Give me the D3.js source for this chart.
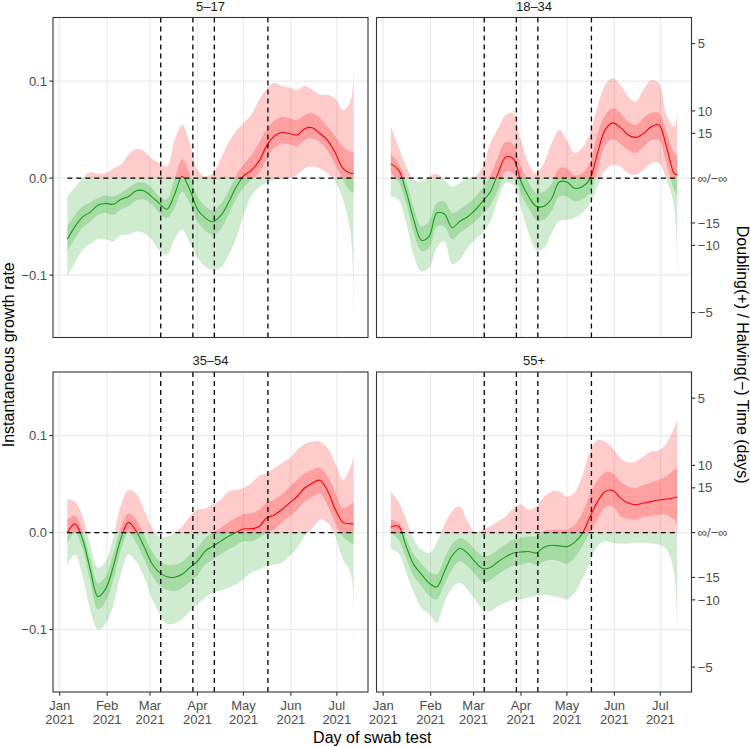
<!DOCTYPE html>
<html><head><meta charset="utf-8">
<script src="https://cdn.jsdelivr.net/npm/d3@7"></script>
<style>
body{margin:0;background:#fff}
text{font-family:"Liberation Sans",Arial,Helvetica,sans-serif}
</style>
</head><body>
<svg id="chart" width="750" height="746"></svg>
<script>
// ---------------- DATA ----------------
// day offsets from 2021-01-01
const days = [5,10,15,20,25,30,35,40,45,50,55,60,65,70,75,80,85,90,95,100,105,110,115,120,125,130,135,140,145,150,155,160,165,170,175,180,185,190,192];
const monthTicks = ["2021-01-01","2021-02-01","2021-03-01","2021-04-01","2021-05-01","2021-06-01","2021-07-01"];
const policyDates = ["2021-03-08","2021-03-29","2021-04-12","2021-05-17"];
const panelNames = ["5–17","18–34","35–54","55+"];
const yTicks = [-0.1, 0, 0.1];
const yTickLabels = ["−0.1","0.0","0.1"];
const dtTicks = [5,10,15,Infinity,-15,-10,-5];
const dtLabels = ["5","10","15","∞/−∞","−15","−10","−5"];

// 5–17
const mid_5_17 = [-0.063,-0.050,-0.040,-0.035,-0.028,-0.026,-0.027,-0.022,-0.019,-0.013,-0.013,-0.019,-0.026,-0.032,-0.017,0.002,-0.012,-0.032,-0.041,-0.045,-0.039,-0.026,-0.010,0.002,0.008,0.017,0.033,0.043,0.047,0.046,0.0445,0.051,0.052,0.046,0.039,0.026,0.010,0.005,0.005];
const hi50_5_17 = [-0.050,-0.038,-0.029,-0.025,-0.0205,-0.018,-0.019,-0.015,-0.010,-0.005,-0.0045,-0.010,-0.019,-0.022,-0.001,0.0195,0.004,-0.019,-0.029,-0.033,-0.027,-0.014,0.002,0.014,0.023,0.036,0.050,0.059,0.063,0.062,0.060,0.065,0.067,0.062,0.053,0.043,0.0325,0.027,0.027];
const lo50_5_17 = [-0.075,-0.062,-0.051,-0.045,-0.038,-0.036,-0.038,-0.032,-0.029,-0.023,-0.022,-0.027,-0.036,-0.041,-0.031,-0.014,-0.026,-0.0445,-0.054,-0.058,-0.053,-0.038,-0.022,-0.010,-0.002,0.005,0.019,0.031,0.035,0.035,0.033,0.039,0.041,0.037,0.028,0.014,-0.002,-0.014,-0.015];
const hi95_5_17 = [-0.019,-0.009,0.000,0.006,0.0045,0.005,0.010,0.014,0.024,0.030,0.028,0.0205,0.0155,0.012,0.039,0.055,0.036,0.0086,0.002,0.005,0.019,0.036,0.048,0.0565,0.065,0.080,0.092,0.098,0.095,0.0935,0.091,0.095,0.091,0.086,0.086,0.082,0.070,0.080,0.118];
const lo95_5_17 = [-0.101,-0.087,-0.074,-0.068,-0.063,-0.063,-0.065,-0.059,-0.058,-0.055,-0.0565,-0.063,-0.074,-0.079,-0.063,-0.053,-0.067,-0.082,-0.091,-0.095,-0.0925,-0.080,-0.063,-0.039,-0.019,-0.010,-0.0045,-0.0017,-0.001,0.000,0.0034,0.010,0.012,0.010,0.005,-0.0034,-0.022,-0.0565,-0.152];

// 18–34
const mid_18_34 = [0.0147,0.0086,-0.0137,-0.043,-0.064,-0.060,-0.036,-0.037,-0.051,-0.0445,-0.040,-0.033,-0.024,-0.014,0.005,0.0216,0.020,-0.0034,-0.019,-0.029,-0.029,-0.021,-0.004,-0.004,-0.0105,-0.009,-0.001,0.026,0.050,0.057,0.052,0.0445,0.042,0.046,0.053,0.055,0.0325,0.005,0.0034];
const hi50_18_34 = [0.0257,0.015,-0.0034,-0.031,-0.050,-0.0445,-0.026,-0.024,-0.036,-0.032,-0.027,-0.020,-0.010,0.003,0.022,0.037,0.035,0.012,-0.0045,-0.0154,-0.014,-0.006,0.010,0.010,0.003,0.005,0.016,0.046,0.065,0.072,0.067,0.058,0.055,0.062,0.0675,0.067,0.048,0.026,0.024];
const lo50_18_34 = [0.005,-0.0034,-0.026,-0.0565,-0.075,-0.072,-0.050,-0.050,-0.063,-0.0565,-0.051,-0.045,-0.037,-0.028,-0.012,0.007,0.005,-0.016,-0.031,-0.043,-0.043,-0.034,-0.019,-0.019,-0.024,-0.022,-0.015,0.0086,0.034,0.040,0.035,0.029,0.026,0.0325,0.039,0.039,0.015,-0.012,-0.019];
const hi95_18_34 = [0.053,0.0325,0.012,-0.0017,-0.0034,0.0017,0.0045,-0.0017,-0.0086,-0.005,0.000,0.0017,0.012,0.036,0.051,0.065,0.067,0.039,0.0154,0.005,0.0154,0.036,0.050,0.039,0.026,0.031,0.046,0.074,0.096,0.103,0.096,0.084,0.079,0.091,0.101,0.098,0.065,0.053,0.067];
const lo95_18_34 = [-0.019,-0.022,-0.046,-0.080,-0.096,-0.0925,-0.072,-0.065,-0.089,-0.084,-0.072,-0.063,-0.0565,-0.0445,-0.022,-0.005,-0.007,-0.031,-0.0565,-0.074,-0.072,-0.0565,-0.0445,-0.043,-0.041,-0.036,-0.026,-0.0086,0.0086,0.0137,0.012,0.005,0.0034,0.0086,0.0154,0.0154,-0.0017,-0.029,-0.159];

// 35–54
const mid_35_54 = [0.000,0.009,-0.007,-0.038,-0.066,-0.058,-0.035,-0.006,0.0106,0.0014,-0.014,-0.031,-0.041,-0.0455,-0.046,-0.043,-0.036,-0.0295,-0.019,-0.014,-0.009,-0.004,0.000,0.0038,0.004,0.006,0.015,0.018,0.0236,0.0305,0.037,0.046,0.051,0.054,0.043,0.024,0.0106,0.009,0.009];
const hi50_35_54 = [0.0134,0.0175,0.001,-0.027,-0.052,-0.045,-0.022,0.006,0.020,0.0134,-0.002,-0.019,-0.029,-0.033,-0.033,-0.030,-0.0226,-0.016,-0.0055,0.000,0.005,0.0105,0.015,0.019,0.020,0.023,0.0305,0.034,0.039,0.047,0.0545,0.061,0.065,0.067,0.058,0.041,0.0253,0.029,0.032];
const lo50_35_54 = [-0.0106,0.000,-0.017,-0.050,-0.079,-0.071,-0.049,-0.018,0.000,-0.0106,-0.027,-0.043,-0.054,-0.059,-0.060,-0.057,-0.051,-0.044,-0.033,-0.028,-0.0226,-0.0175,-0.0134,-0.009,-0.009,-0.0055,0.000,0.003,0.0106,0.0168,0.0236,0.032,0.0366,0.040,0.028,0.010,-0.004,-0.0106,-0.012];
const hi95_35_54 = [0.0346,0.032,0.017,-0.013,-0.036,-0.030,-0.005,0.028,0.044,0.040,0.024,0.006,-0.004,-0.004,0.000,0.006,0.0168,0.0236,0.025,0.029,0.034,0.0425,0.044,0.046,0.051,0.058,0.0613,0.0664,0.0716,0.0767,0.0853,0.0914,0.094,0.094,0.087,0.0716,0.0545,0.068,0.079];
const lo95_35_54 = [-0.033,-0.0226,-0.045,-0.080,-0.100,-0.094,-0.075,-0.043,-0.0226,-0.030,-0.045,-0.067,-0.083,-0.094,-0.094,-0.089,-0.081,-0.074,-0.067,-0.062,-0.060,-0.057,-0.0534,-0.048,-0.0414,-0.038,-0.0346,-0.033,-0.031,-0.024,-0.0158,-0.0038,0.0048,0.0134,0.010,-0.0038,-0.028,-0.041,-0.120];

// 55+
const mid_55 = [0.0058,0.0065,-0.014,-0.033,-0.043,-0.052,-0.056,-0.040,-0.024,-0.0164,-0.021,-0.030,-0.037,-0.036,-0.030,-0.025,-0.021,-0.020,-0.0195,-0.021,-0.015,-0.013,-0.0137,-0.0144,-0.010,-0.001,0.016,0.032,0.0425,0.0435,0.0356,0.0305,0.0288,0.0305,0.032,0.0336,0.0346,0.036,0.0366];
const hi50_55 = [0.0134,0.0106,-0.0055,-0.0226,-0.032,-0.040,-0.043,-0.027,-0.012,-0.0055,-0.009,-0.0175,-0.024,-0.023,-0.0175,-0.012,-0.0072,-0.0055,-0.0038,-0.0038,0.0017,0.003,0.003,0.003,0.008,0.020,0.039,0.054,0.062,0.061,0.0527,0.0476,0.046,0.049,0.0517,0.0545,0.058,0.0647,0.0654];
const lo50_55 = [0.000,-0.007,-0.026,-0.045,-0.055,-0.065,-0.069,-0.053,-0.038,-0.0295,-0.0346,-0.043,-0.051,-0.049,-0.043,-0.038,-0.034,-0.033,-0.031,-0.033,-0.0295,-0.028,-0.0295,-0.032,-0.026,-0.014,0.000,0.014,0.026,0.027,0.0168,0.014,0.0134,0.016,0.0175,0.0185,0.0185,0.0134,0.010];
const hi95_55 = [0.0425,0.032,0.0134,-0.007,-0.0175,-0.021,-0.0106,0.008,0.022,0.027,0.012,0.000,0.003,0.0065,0.0116,0.0168,0.025,0.029,0.0236,0.027,0.037,0.0425,0.0425,0.037,0.041,0.058,0.0836,0.0955,0.094,0.087,0.0767,0.0723,0.0733,0.0784,0.0836,0.085,0.092,0.1075,0.116];
const lo95_55 = [-0.0175,-0.021,-0.041,-0.062,-0.0774,-0.084,-0.093,-0.072,-0.057,-0.0517,-0.0586,-0.069,-0.079,-0.081,-0.0757,-0.072,-0.069,-0.069,-0.067,-0.065,-0.064,-0.065,-0.067,-0.069,-0.062,-0.048,-0.031,-0.014,-0.009,-0.0106,-0.0113,-0.0113,-0.0106,-0.0106,-0.0113,-0.0123,-0.0175,-0.041,-0.161];

// ---------------- BUILD ----------------
const parse = d3.timeParse("%Y-%m-%d");
const t0 = parse("2021-01-01");
const dates = days.map(d => d3.timeDay.offset(t0, d));

const panels = [
  {name: panelNames[0], mid: mid_5_17, hi50: hi50_5_17, lo50: lo50_5_17, hi95: hi95_5_17, lo95: lo95_5_17},
  {name: panelNames[1], mid: mid_18_34, hi50: hi50_18_34, lo50: lo50_18_34, hi95: hi95_18_34, lo95: lo95_18_34},
  {name: panelNames[2], mid: mid_35_54, hi50: hi50_35_54, lo50: lo50_35_54, hi95: hi95_35_54, lo95: lo95_35_54},
  {name: panelNames[3], mid: mid_55, hi50: hi50_55, lo50: lo50_55, hi95: hi95_55, lo95: lo95_55}
];

const svg = d3.select("#chart");
const W = 315, H = 320;
const colX = [53, 376.5];
const rowY = [17.5, 372];

const ext = d3.extent(dates);
const span = ext[1] - ext[0];
const x = d3.scaleTime()
  .domain([new Date(+ext[0] - 0.05 * span), new Date(+ext[1] + 0.05 * span)])
  .range([0, W]);
const y = d3.scaleLinear().domain([-0.1643, 0.1656]).range([H, 0]);

const RED = "#FF0000", GREEN = "#12A012";
const tickCol = "#4D4D4D", frameCol = "#333333";
const defs = svg.append("defs");

panels.forEach((p, i) => {
  const col = i % 2, row = Math.floor(i / 2);
  const g = svg.append("g").attr("transform", `translate(${colX[col]},${rowY[row]})`);
  const rows = dates.map((d, k) => ({d, mid: p.mid[k], hi50: p.hi50[k], lo50: p.lo50[k], hi95: p.hi95[k], lo95: p.lo95[k]}));

  // grid
  g.selectAll(".vg").data(monthTicks.map(parse)).join("line")
    .attr("x1", d => x(d)).attr("x2", d => x(d)).attr("y1", 0).attr("y2", H)
    .attr("stroke", "#EBEBEB").attr("stroke-width", 1.1);
  g.selectAll(".hg").data(yTicks).join("line")
    .attr("x1", 0).attr("x2", W).attr("y1", d => y(d)).attr("y2", d => y(d))
    .attr("stroke", "#EBEBEB").attr("stroke-width", 1.1);

  // clips
  const idA = "ca" + i, idB = "cb" + i;
  defs.append("clipPath").attr("id", idA).append("rect")
    .attr("x", colX[col]).attr("y", rowY[row]).attr("width", W).attr("height", y(0));
  defs.append("clipPath").attr("id", idB).append("rect")
    .attr("x", colX[col]).attr("y", rowY[row] + y(0)).attr("width", W).attr("height", H - y(0));

  const curve = d3.curveCatmullRom.alpha(0.5);
  const a95 = d3.area().x(r => x(r.d)).y0(r => y(r.lo95)).y1(r => y(r.hi95)).curve(curve);
  const a50 = d3.area().x(r => x(r.d)).y0(r => y(r.lo50)).y1(r => y(r.hi50)).curve(curve);
  const ln = d3.line().x(r => x(r.d)).y(r => y(r.mid)).curve(curve);

  [[idA, RED], [idB, GREEN]].forEach(([cid, colr]) => {
    const outer = svg.append("g").attr("clip-path", `url(#${cid})`);
    const cg = outer.append("g").attr("transform", `translate(${colX[col]},${rowY[row]})`);
    cg.append("path").attr("d", a95(rows)).attr("fill", colr).attr("fill-opacity", 0.2);
    cg.append("path").attr("d", a50(rows)).attr("fill", colr).attr("fill-opacity", 0.22);
    cg.append("path").attr("d", ln(rows)).attr("fill", "none").attr("stroke", colr).attr("stroke-width", 1.1);
  });

  const top = svg.append("g").attr("transform", `translate(${colX[col]},${rowY[row]})`);
  // zero dashed line across data range
  top.append("line")
    .attr("x1", x(ext[0])).attr("x2", x(ext[1])).attr("y1", y(0)).attr("y2", y(0))
    .attr("stroke", "#000").attr("stroke-width", 1.3).attr("stroke-dasharray", "5,4");
  // policy lines
  top.selectAll(".pl").data(policyDates.map(parse)).join("line")
    .attr("x1", d => x(d)).attr("x2", d => x(d)).attr("y1", 0).attr("y2", H)
    .attr("stroke", "#000").attr("stroke-width", 1.3).attr("stroke-dasharray", "5,4");
  // frame
  top.append("rect").attr("x", 0).attr("y", 0).attr("width", W).attr("height", H)
    .attr("fill", "none").attr("stroke", frameCol).attr("stroke-width", 1.1);
  // strip title
  top.append("text").attr("x", W / 2).attr("y", -6.8).attr("text-anchor", "middle")
    .attr("font-size", 13).attr("fill", "#1A1A1A").text(p.name);

  // left axis
  if (col === 0) {
    const ax = top.append("g");
    ax.selectAll("line").data(yTicks).join("line")
      .attr("x1", -3.7).attr("x2", 0).attr("y1", d => y(d)).attr("y2", d => y(d))
      .attr("stroke", frameCol).attr("stroke-width", 1.1);
    ax.selectAll("text").data(yTicks).join("text")
      .attr("x", -6).attr("y", d => y(d)).attr("dy", "0.36em").attr("text-anchor", "end")
      .attr("font-size", 13).attr("fill", tickCol).text((d, k) => yTickLabels[k]);
  }
  // right secondary axis (doubling / halving time)
  if (col === 1) {
    const rv = dtTicks.map(T => isFinite(T) ? Math.LN2 / T : 0);
    const ax = top.append("g");
    ax.selectAll("line").data(rv).join("line")
      .attr("x1", W).attr("x2", W + 3.7).attr("y1", d => y(d)).attr("y2", d => y(d))
      .attr("stroke", frameCol).attr("stroke-width", 1.1);
    ax.selectAll("text").data(rv).join("text")
      .attr("x", W + 6.3).attr("y", d => y(d)).attr("dy", "0.36em").attr("text-anchor", "start")
      .attr("font-size", 13).attr("fill", tickCol).text((d, k) => dtLabels[k]);
  }
  // bottom axis
  if (row === 1) {
    const mt = monthTicks.map(parse);
    const ax = top.append("g");
    ax.selectAll("line").data(mt).join("line")
      .attr("x1", d => x(d)).attr("x2", d => x(d)).attr("y1", H).attr("y2", H + 3.7)
      .attr("stroke", frameCol).attr("stroke-width", 1.1);
    const fm = d3.timeFormat("%b");
    const fy = d3.timeFormat("%Y");
    const tx = ax.selectAll("text").data(mt).join("text")
      .attr("text-anchor", "middle").attr("font-size", 13).attr("fill", tickCol);
    tx.append("tspan").attr("x", d => x(d)).attr("y", H + 18).text(d => fm(d));
    tx.append("tspan").attr("x", d => x(d)).attr("y", H + 32).text(d => fy(d));
  }
});

// axis titles
svg.append("text").attr("transform", `translate(13.5,${(rowY[0] + rowY[1] + H) / 2}) rotate(-90)`)
  .attr("text-anchor", "middle").attr("font-size", 16).attr("fill", "#000").text("Instantaneous growth rate");
svg.append("text").attr("transform", `translate(736.5,${(rowY[0] + rowY[1] + H) / 2}) rotate(90)`)
  .attr("text-anchor", "middle").attr("font-size", 16).attr("fill", "#000").text("Doubling(+) / Halving(−) Time (days)");
svg.append("text").attr("x", (colX[0] + colX[1] + W) / 2).attr("y", 742.5)
  .attr("text-anchor", "middle").attr("font-size", 16).attr("fill", "#000").text("Day of swab test");
</script>
</body></html>
